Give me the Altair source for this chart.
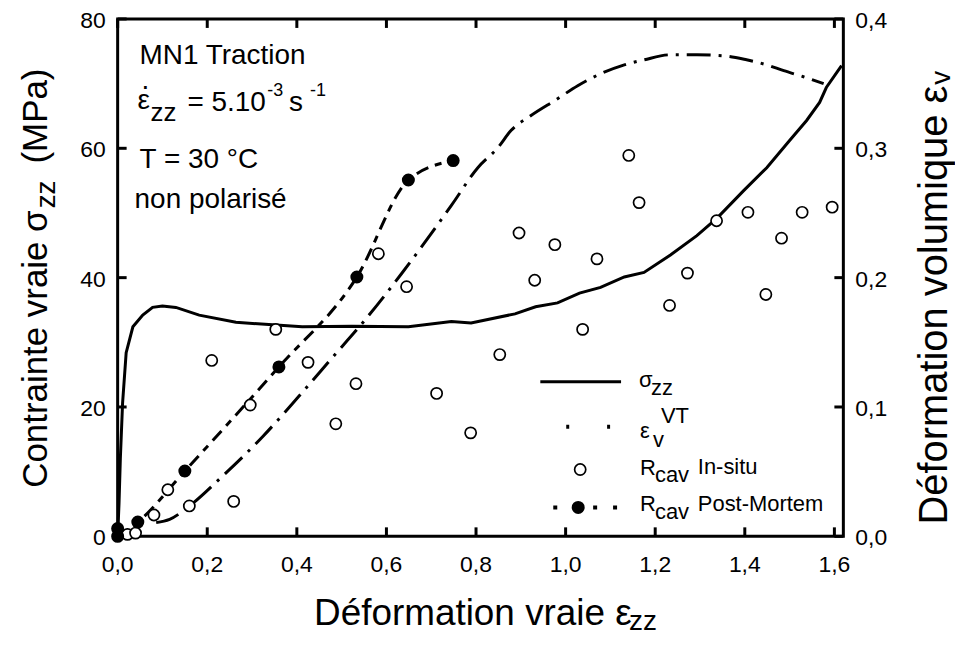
import altair as alt
import pandas as pd

FONT = "Liberation Sans"

# ---- data ----
strain_sigma = [0, 0.003, 0.006, 0.011, 0.019, 0.034, 0.056, 0.078, 0.10, 0.13, 0.182, 0.264,
                0.412, 0.523, 0.649, 0.745, 0.789, 0.887, 0.933, 0.982, 1.031, 1.078, 1.131,
                1.175, 1.234, 1.293, 1.338, 1.398, 1.449, 1.50, 1.538, 1.567, 1.582, 1.616]
sigma_mpa = [0, 5, 12, 20.6, 28.4, 32.4, 34.2, 35.4, 35.6, 35.4, 34.2, 33.1,
             32.4, 32.5, 32.4, 33.2, 33.0, 34.4, 35.5, 36.1, 37.6, 38.5, 40.1,
             40.8, 43.5, 46.5, 49.2, 53.5, 57.0, 61.2, 64.3, 67.1, 69.4, 72.8]

strain_ev = [0.086, 0.116, 0.16, 0.234, 0.323, 0.404, 0.478, 0.552, 0.634, 0.745, 0.804,
             0.849, 0.878, 0.922, 0.982, 1.027, 1.078, 1.131, 1.175, 1.234, 1.293, 1.353,
             1.404, 1.449, 1.487, 1.531, 1.576]
ev_vt = [0.0106, 0.0131, 0.0234, 0.0465, 0.0768, 0.1081, 0.1377, 0.1672, 0.2032, 0.2559, 0.285,
         0.3006, 0.3137, 0.3252, 0.3383, 0.3484, 0.3576, 0.3645, 0.3684, 0.3723, 0.3723, 0.3715,
         0.3684, 0.3645, 0.360, 0.3553, 0.350]

insitu_strain = [0.022, 0.040, 0.081, 0.112, 0.16, 0.21, 0.259, 0.296, 0.353, 0.425, 0.487,
                 0.532, 0.582, 0.645, 0.712, 0.788, 0.853, 0.896, 0.931, 0.976, 1.038, 1.070,
                 1.141, 1.164, 1.232, 1.272, 1.337, 1.407, 1.447, 1.482, 1.528, 1.595]
insitu_rcav = [0.3, 0.5, 3.3, 7.2, 4.7, 27.2, 5.4, 20.3, 32.0, 26.9, 17.4,
               23.6, 43.7, 38.6, 22.1, 16.0, 28.1, 46.9, 39.6, 45.1, 32.0, 42.9,
               58.9, 51.6, 35.7, 40.7, 48.8, 50.1, 37.4, 46.1, 50.1, 50.9]

pm_strain = [0, 0, 0.045, 0.15, 0.36, 0.534, 0.649, 0.749]
pm_rcav = [0, 1.2, 2.2, 10.1, 26.2, 40.1, 55.1, 58.1]

x_ticks = [0, 0.2, 0.4, 0.6, 0.8, 1.0, 1.2, 1.4, 1.6]
y_left_ticks = [0, 20, 40, 60, 80]
y_right_ticks = [0, 0.1, 0.2, 0.3, 0.4]

# ---- tables ----
df_sigma = pd.DataFrame({"strain": strain_sigma, "val": sigma_mpa})
df_ev = pd.DataFrame({"strain": strain_ev, "ev": ev_vt})
df_insitu = pd.DataFrame({"strain": insitu_strain, "val": insitu_rcav})
df_pm = pd.DataFrame({"strain": pm_strain, "val": pm_rcav})
df_pm_line = df_pm.drop_duplicates(subset="strain", keep="first")
df_xt = pd.DataFrame({"v": x_ticks})
df_ylt = pd.DataFrame({"v": y_left_ticks})
df_yrt = pd.DataFrame({"v": y_right_ticks})
one = pd.DataFrame({"k": [0]})

W, H = 728, 519
TICK = 9

xscale = alt.Scale(domain=[0, 1.62], nice=False, zero=False)
yL = alt.Scale(domain=[0, 80], nice=False)
yR = alt.Scale(domain=[0, 0.4], nice=False)

comma1 = "replace(format(datum.v, '.1f'), '.', ',')"

X = alt.X("strain:Q", scale=xscale, axis=None)
XT = alt.X("v:Q", scale=xscale, axis=None)
YL = alt.Y("val:Q", scale=yL, axis=None)
YLT = alt.Y("v:Q", scale=yL, axis=None)
YR = alt.Y("ev:Q", scale=yR, axis=None)
YRT = alt.Y("v:Q", scale=yR, axis=None)

# ---- left-scale group (stress, cavity ratio) ----
sigma_line = alt.Chart(df_sigma).mark_line(color="black", strokeWidth=3).encode(x=X, y=YL)
pm_line = alt.Chart(df_pm_line).mark_line(color="black", strokeWidth=3,
                                          strokeDash=[13, 7, 7, 7], interpolate="monotone").encode(x=X, y=YL)
insitu_pts = alt.Chart(df_insitu).mark_point(shape="circle", filled=True, fill="white",
                                             stroke="black", strokeWidth=1.7, size=125,
                                             opacity=1).encode(x=X, y=YL)
pm_pts = alt.Chart(df_pm).mark_point(shape="circle", filled=True, color="black",
                                     size=170, opacity=1).encode(x=X, y=YL)

xt_bottom = alt.Chart(df_xt).mark_rule(color="black", strokeWidth=3).encode(
    x=XT, y=alt.value(H), y2=alt.value(H - TICK))
xt_top = alt.Chart(df_xt).mark_rule(color="black", strokeWidth=3).encode(
    x=XT, y=alt.value(0), y2=alt.value(TICK))
ylt = alt.Chart(df_ylt).mark_rule(color="black", strokeWidth=3).encode(
    y=YLT, x=alt.value(0), x2=alt.value(TICK))

x_labels = alt.Chart(df_xt).transform_calculate(lab=comma1).mark_text(
    font=FONT, fontSize=23, color="black", align="center", baseline="alphabetic").encode(
    x=XT, y=alt.value(H + 36), text="lab:N")
yl_labels = alt.Chart(df_ylt).mark_text(
    font=FONT, fontSize=23, color="black", align="right", baseline="middle", dy=2).encode(
    y=YLT, x=alt.value(-12), text=alt.Text("v:Q", format="d"))

left_group = alt.layer(xt_bottom, xt_top, ylt, x_labels, yl_labels,
                       sigma_line, pm_line, insitu_pts, pm_pts)

# ---- right-scale group (volumic strain) ----
ev_line = alt.Chart(df_ev).mark_line(color="black", strokeWidth=3,
                                     strokeDash=[24, 8, 3, 8], interpolate="monotone").encode(x=X, y=YR)
yrt = alt.Chart(df_yrt).mark_rule(color="black", strokeWidth=3).encode(
    y=YRT, x=alt.value(W), x2=alt.value(W - TICK))
yr_labels = alt.Chart(df_yrt).transform_calculate(lab=comma1).mark_text(
    font=FONT, fontSize=23, color="black", align="left", baseline="middle", dy=2).encode(
    y=YRT, x=alt.value(W + 12), text="lab:N")
right_group = alt.layer(ev_line, yrt, yr_labels)


# ---- text helpers (annotations, titles, legend) ----
def txt(s, x, y, size, angle=0, align="left"):
    return alt.Chart(one).mark_text(text=s, font=FONT, fontSize=size, color="black",
                                    align=align, baseline="alphabetic", angle=angle).encode(
        x=alt.value(x), y=alt.value(y))


def seg(x1, x2, y, width=3, dash=None):
    kw = dict(color="black", strokeWidth=width)
    if dash:
        kw["strokeDash"] = dash
    return alt.Chart(one).mark_rule(**kw).encode(x=alt.value(x1), x2=alt.value(x2), y=alt.value(y))


def dot(x, y, filled):
    if filled:
        m = alt.Chart(one).mark_point(shape="circle", filled=True, color="black", size=170, opacity=1)
    else:
        m = alt.Chart(one).mark_point(shape="circle", filled=True, fill="white", stroke="black",
                                      strokeWidth=1.7, size=125, opacity=1)
    return m.encode(x=alt.value(x), y=alt.value(y))


texts = [
    # annotation block
    txt("MN1 Traction", 22, 45, 28),
    txt("\u03b5", 20, 90, 28),
    txt(".", 24, 70, 28),
    txt("zz", 33, 102, 26),
    txt("= 5.10", 70, 92, 28),
    txt("-3", 150, 77, 18),
    txt("s", 172, 92, 28),
    txt("-1", 193, 77, 18),
    txt("T = 30 \u00b0C", 22, 150, 28),
    txt("non polaris\u00e9", 17, 190, 28),
    # axis titles
    txt("D\u00e9formation vraie \u03b5", 197, 608, 37),
    txt("zz", 513, 613, 28),
    txt("Contrainte vraie \u03c3", -71, 192, 35, angle=270, align="right"),
    txt("zz", -63, 190, 28, angle=270),
    txt("(MPa)", -71, 145, 35, angle=270),
    txt("D\u00e9formation volumique \u03b5", 832, 67, 40, angle=270, align="right"),
    txt("v", 835, 66, 28, angle=270),
    # legend
    seg(424, 505, 364),
    txt("\u03c3", 523, 369, 22),
    txt("zz", 535, 377, 22),
    seg(450, 494, 409, width=4, dash=[3, 38]),
    txt("\u03b5", 524, 420, 22),
    txt("v", 537, 429, 22),
    txt("VT", 545, 405, 22),
    dot(464, 452, False),
    txt("R", 524, 457, 22),
    txt("cav", 539, 465, 22),
    txt("In-situ", 582, 456, 22),
    seg(437, 505, 490, width=4, dash=[4, 16]),
    dot(462, 490, True),
    txt("R", 524, 494, 22),
    txt("cav", 539, 502, 22),
    txt("Post-Mortem", 582, 494, 22),
]

chart = alt.layer(right_group, left_group, *texts).resolve_scale(y="independent").properties(
    width=W, height=H,
    autosize=alt.AutoSizeParams(type="none"),
    padding={"left": 110, "top": 10, "right": 112, "bottom": 100},
    background="white",
).configure_view(stroke="black", strokeWidth=3)

chart.save("out.html", embed_options={"renderer": "svg", "actions": False})
